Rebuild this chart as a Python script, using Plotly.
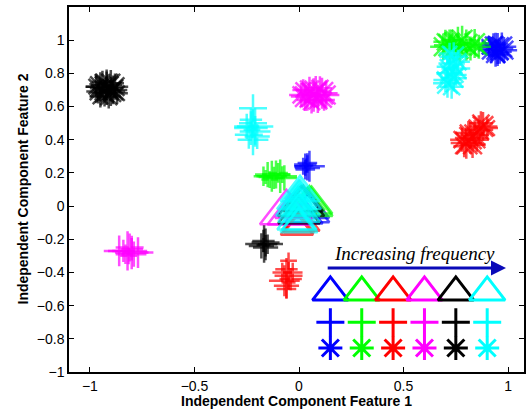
import plotly.graph_objects as go

# ---------------- data ----------------
colors = ["#0000ff", "#00ff00", "#ff0000", "#ff00ff", "#000000", "#00ffff"]
color_names = ["blue", "green", "red", "magenta", "black", "cyan"]

x_ticks = [-1, -0.5, 0, 0.5, 1]
x_tick_labels = ["\u22121", "\u22120.5", "0", "0.5", "1"]
y_ticks = [-1, -0.8, -0.6, -0.4, -0.2, 0, 0.2, 0.4, 0.6, 0.8, 1]
y_tick_labels = ["\u22121", "\u22120.8", "\u22120.6", "\u22120.4", "\u22120.2", "0",
                 "0.2", "0.4", "0.6", "0.8", "1"]

# asterisk clusters (x, y, marker size)
star_blue_x = [0.95, 0.92, 0.97, 0.94, 0.96, 0.93, 0.98, 0.91, 0.95, 0.94]
star_blue_y = [0.95, 0.94, 0.96, 0.92, 0.93, 0.97, 0.94, 0.96, 0.91, 0.98]
star_blue_s = [26, 22, 24, 22, 20, 20, 22, 18, 18, 18]

star_green_x = [0.72, 0.76, 0.80, 0.69, 0.84, 0.74, 0.78, 0.82, 0.70, 0.86, 0.77, 0.73]
star_green_y = [0.97, 0.98, 0.97, 0.96, 0.98, 0.95, 1.00, 0.95, 0.99, 0.96, 0.94, 1.00]
star_green_s = [26, 28, 26, 22, 24, 22, 24, 20, 20, 20, 20, 18]

star_red_x = [0.80, 0.82, 0.84, 0.86, 0.88, 0.78, 0.83, 0.85, 0.87, 0.90, 0.81, 0.79]
star_red_y = [0.38, 0.41, 0.43, 0.46, 0.48, 0.40, 0.37, 0.40, 0.50, 0.47, 0.44, 0.36]
star_red_s = [26, 26, 24, 24, 24, 20, 22, 20, 20, 18, 20, 18]

star_magenta_x = [0.07, 0.03, 0.11, 0.05, 0.09, 0.01, 0.13, 0.06, 0.10, 0.04, 0.12, 0.02, 0.08]
star_magenta_y = [0.67, 0.66, 0.68, 0.70, 0.64, 0.67, 0.67, 0.63, 0.71, 0.64, 0.64, 0.70, 0.69]
star_magenta_s = [28, 24, 26, 22, 22, 20, 22, 20, 20, 18, 18, 18, 26]

star_black_x = [-0.92, -0.95, -0.89, -0.93, -0.90, -0.96, -0.88, -0.94, -0.91, -0.87, -0.97, -0.92, -0.90, -0.95]
star_black_y = [0.71, 0.72, 0.70, 0.68, 0.74, 0.69, 0.72, 0.75, 0.66, 0.68, 0.72, 0.73, 0.69, 0.66]
star_black_s = [28, 24, 24, 22, 22, 20, 22, 18, 20, 18, 18, 26, 24, 18]

star_cyan_x = [0.74, 0.73, 0.75, 0.72, 0.74, 0.71, 0.73, 0.70, 0.76, 0.72, 0.75, 0.71]
star_cyan_y = [0.90, 0.86, 0.83, 0.80, 0.77, 0.74, 0.72, 0.76, 0.87, 0.92, 0.79, 0.84]
star_cyan_s = [24, 22, 24, 22, 22, 24, 20, 20, 20, 18, 18, 18]

# plus clusters (x, y, marker size)
plus_blue_x = [0.03, 0.04, 0.05, 0.03, 0.04, 0.02, 0.035]
plus_blue_y = [0.25, 0.23, 0.24, 0.22, 0.26, 0.24, 0.245]
plus_blue_s = [16, 18, 22, 14, 14, 12, 10]

plus_green_x = [-0.17, -0.15, -0.13, -0.11, -0.09, -0.07, -0.12, -0.10, -0.14, -0.16, -0.08]
plus_green_y = [0.18, 0.19, 0.18, 0.19, 0.18, 0.17, 0.17, 0.20, 0.16, 0.175, 0.19]
plus_green_s = [14, 18, 22, 20, 24, 18, 16, 14, 12, 10, 12]

plus_red_x = [-0.05, -0.06, -0.05, -0.07, -0.06, -0.04, -0.08, -0.03, -0.06, -0.05]
plus_red_y = [-0.33, -0.38, -0.42, -0.45, -0.48, -0.44, -0.40, -0.40, -0.50, -0.46]
plus_red_s = [12, 16, 20, 22, 18, 16, 14, 14, 14, 10]

plus_magenta_x = [-0.82, -0.80, -0.84, -0.81, -0.79, -0.83, -0.77, -0.86, -0.80, -0.815]
plus_magenta_y = [-0.27, -0.28, -0.27, -0.25, -0.29, -0.29, -0.28, -0.27, -0.26, -0.30]
plus_magenta_s = [28, 24, 16, 20, 18, 14, 22, 22, 16, 12]

plus_black_x = [-0.167, -0.16, -0.18, -0.17, -0.16, -0.15, -0.17]
plus_black_y = [-0.228, -0.22, -0.24, -0.21, -0.25, -0.23, -0.235]
plus_black_s = [27, 20, 18, 16, 18, 14, 10]

plus_cyan_x = [-0.22, -0.23, -0.21, -0.24, -0.22, -0.20, -0.25, -0.22, -0.23, -0.21, -0.225]
plus_cyan_y = [0.59, 0.47, 0.45, 0.43, 0.50, 0.42, 0.48, 0.40, 0.52, 0.48, 0.46]
plus_cyan_s = [20, 24, 22, 20, 20, 18, 18, 22, 16, 26, 12]

# triangle clusters (x, y, marker size)
tri_blue_x = [0.04, 0.05, 0.03]
tri_blue_y = [-0.04, -0.02, -0.06]
tri_blue_s = [38, 34, 30]

tri_green_x = [0.05, 0.06, 0.04]
tri_green_y = [0.00, 0.01, 0.02]
tri_green_s = [40, 36, 30]

tri_red_x = [-0.01, 0.00, 0.01]
tri_red_y = [-0.13, -0.12, -0.10]
tri_red_s = [28, 26, 32]

tri_magenta_x = [-0.06, -0.04, -0.02]
tri_magenta_y = [-0.04, -0.05, -0.02]
tri_magenta_s = [46, 40, 34]

tri_black_x = [0.01, 0.00, 0.02]
tri_black_y = [0.00, -0.05, 0.02]
tri_black_s = [40, 36, 34]

tri_cyan_x = [0.005, 0.005, 0.005, 0.005,
              0.0, 0.0, 0.0, 0.0,
              -0.005, -0.005, -0.005, -0.005,
              0.0, 0.0, 0.0, 0.0,
              -0.01, 0.0, -0.005]
tri_cyan_y = [0.08, 0.08, 0.08, 0.08,
              0.04, 0.04, 0.04, 0.04,
              0.0, 0.0, 0.0, 0.0,
              -0.04, -0.04, -0.04, -0.04,
              -0.09, -0.11, -0.10]
tri_cyan_s = [34, 26, 18, 10,
              38, 30, 22, 14,
              38, 30, 22, 14,
              36, 28, 20, 12,
              34, 32, 28]

# legend key
legend_x = [0.15, 0.30, 0.45, 0.60, 0.75, 0.90]
legend_tri_y = -0.52
legend_plus_y = -0.70
legend_star_y = -0.855
arrow_x0, arrow_x1, arrow_y = 0.13, 0.99, -0.373
legend_text = "Increasing frequency"

# ---------------- figure ----------------
fig = go.Figure()

def add_cluster(xs, ys, ss, color, symbol, lw=2.5):
    fig.add_trace(go.Scatter(
        x=xs, y=ys, mode="markers", showlegend=False, hoverinfo="skip",
        marker=dict(symbol=symbol, size=ss, color=color,
                    line=dict(color=color, width=lw))))

stars = [(star_blue_x, star_blue_y, star_blue_s), (star_green_x, star_green_y, star_green_s),
         (star_red_x, star_red_y, star_red_s), (star_magenta_x, star_magenta_y, star_magenta_s),
         (star_black_x, star_black_y, star_black_s), (star_cyan_x, star_cyan_y, star_cyan_s)]
pluses = [(plus_blue_x, plus_blue_y, plus_blue_s), (plus_green_x, plus_green_y, plus_green_s),
          (plus_red_x, plus_red_y, plus_red_s), (plus_magenta_x, plus_magenta_y, plus_magenta_s),
          (plus_black_x, plus_black_y, plus_black_s), (plus_cyan_x, plus_cyan_y, plus_cyan_s)]
tris = [(tri_blue_x, tri_blue_y, tri_blue_s), (tri_green_x, tri_green_y, tri_green_s),
        (tri_red_x, tri_red_y, tri_red_s), (tri_magenta_x, tri_magenta_y, tri_magenta_s),
        (tri_black_x, tri_black_y, tri_black_s), (tri_cyan_x, tri_cyan_y, tri_cyan_s)]

for (xs, ys, ss), c in zip(stars, colors):
    add_cluster(xs, ys, ss, c, "asterisk-open")
for (xs, ys, ss), c in zip(pluses, colors):
    add_cluster(xs, ys, ss, c, "cross-thin-open")
for (xs, ys, ss), c in zip(tris, colors):
    add_cluster(xs, ys, ss, c, "triangle-up-open")

# legend key markers
for sym, yv, sz in [("triangle-up-open", legend_tri_y, 31),
                    ("cross-thin-open", legend_plus_y, 20),
                    ("asterisk-open", legend_star_y, 20)]:
    fig.add_trace(go.Scatter(
        x=legend_x, y=[yv] * len(legend_x), mode="markers", showlegend=False,
        hoverinfo="skip",
        marker=dict(symbol=sym, size=sz, color=colors,
                    line=dict(color=colors, width=3))))

fig.add_annotation(x=arrow_x1, y=arrow_y, ax=arrow_x0, ay=arrow_y,
                   xref="x", yref="y", axref="x", ayref="y", text="",
                   showarrow=True, arrowhead=2, arrowsize=1, arrowwidth=3,
                   arrowcolor="#0a0ab8")
fig.add_annotation(x=0.55, y=-0.283, xref="x", yref="y",
                   text="<i>" + legend_text + "</i>", showarrow=False,
                   font=dict(family="Liberation Serif", size=19, color="black"))

fig.add_annotation(x=0.5, y=0, xref="paper", yref="paper", yanchor="middle",
                   yshift=-29, showarrow=False,
                   text="<b>Independent Component Feature 1</b>",
                   font=dict(family="Liberation Sans", size=14, color="black"))
fig.add_annotation(x=0, y=0.5, xref="paper", yref="paper", xanchor="center",
                   xshift=-47, textangle=-90, showarrow=False,
                   text="<b>Independent Component Feature 2</b>",
                   font=dict(family="Liberation Sans", size=14, color="black"))

axis_common = dict(showgrid=False, zeroline=False, showline=True, linecolor="black",
                   linewidth=1.5, mirror="ticks", ticks="inside", ticklen=5,
                   tickcolor="black", tickwidth=1,
                   tickfont=dict(family="Liberation Sans", size=14, color="black"))

fig.update_layout(
    width=528, height=411,
    margin=dict(l=69, r=2, t=7, b=39),
    paper_bgcolor="white", plot_bgcolor="white",
    xaxis=dict(range=[-1.1, 1.076], tickvals=x_ticks, ticktext=x_tick_labels, **axis_common),
    yaxis=dict(range=[-1, 1.2], tickvals=y_ticks, ticktext=y_tick_labels, **axis_common),
)

fig.write_html("out.html", config={"displayModeBar": False},
               post_script="document.body.style.margin='0';document.body.style.padding='0';")
